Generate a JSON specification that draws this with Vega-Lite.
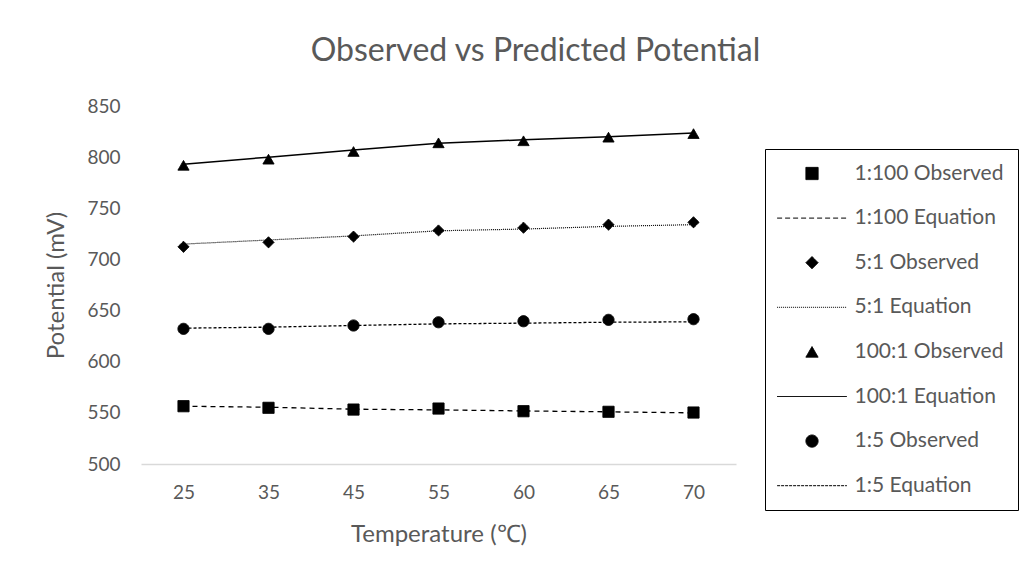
{
  "$schema": "https://vega.github.io/schema/vega-lite/v6.json",
  "autosize": {"type": "none"},
  "width": 595,
  "height": 358,
  "padding": {"left": 141, "top": 106, "right": 285, "bottom": 116},
  "background": "white",
  "title": {
    "text": "Observed vs Predicted Potential",
    "fontSize": 32,
    "font": "Lato",
    "fontWeight": "normal",
    "color": "#595959",
    "anchor": "middle",
    "dx": 97,
    "offset": 29
  },
  "config": {
    "view": {"stroke": null},
    "font": "Lato"
  },
  "data": {
    "values": [
      {"temp": 25, "series": "1:100 Observed", "kind": "Observed", "value": 556.5},
      {"temp": 35, "series": "1:100 Observed", "kind": "Observed", "value": 554.9},
      {"temp": 45, "series": "1:100 Observed", "kind": "Observed", "value": 553.2},
      {"temp": 55, "series": "1:100 Observed", "kind": "Observed", "value": 554.2},
      {"temp": 60, "series": "1:100 Observed", "kind": "Observed", "value": 551.6},
      {"temp": 65, "series": "1:100 Observed", "kind": "Observed", "value": 551.0},
      {"temp": 70, "series": "1:100 Observed", "kind": "Observed", "value": 550.3},
      {"temp": 25, "series": "1:100 Equation", "kind": "Equation", "value": 556.5},
      {"temp": 35, "series": "1:100 Equation", "kind": "Equation", "value": 555.5},
      {"temp": 45, "series": "1:100 Equation", "kind": "Equation", "value": 553.6},
      {"temp": 55, "series": "1:100 Equation", "kind": "Equation", "value": 552.9},
      {"temp": 60, "series": "1:100 Equation", "kind": "Equation", "value": 551.9},
      {"temp": 65, "series": "1:100 Equation", "kind": "Equation", "value": 551.0},
      {"temp": 70, "series": "1:100 Equation", "kind": "Equation", "value": 550.0},
      {"temp": 25, "series": "5:1 Observed", "kind": "Observed", "value": 712.3},
      {"temp": 35, "series": "5:1 Observed", "kind": "Observed", "value": 716.7},
      {"temp": 45, "series": "5:1 Observed", "kind": "Observed", "value": 722.3},
      {"temp": 55, "series": "5:1 Observed", "kind": "Observed", "value": 728.3},
      {"temp": 60, "series": "5:1 Observed", "kind": "Observed", "value": 731.0},
      {"temp": 65, "series": "5:1 Observed", "kind": "Observed", "value": 734.0},
      {"temp": 70, "series": "5:1 Observed", "kind": "Observed", "value": 736.3},
      {"temp": 25, "series": "5:1 Equation", "kind": "Equation", "value": 715.0},
      {"temp": 35, "series": "5:1 Equation", "kind": "Equation", "value": 719.0},
      {"temp": 45, "series": "5:1 Equation", "kind": "Equation", "value": 723.0},
      {"temp": 55, "series": "5:1 Equation", "kind": "Equation", "value": 728.0},
      {"temp": 60, "series": "5:1 Equation", "kind": "Equation", "value": 729.7},
      {"temp": 65, "series": "5:1 Equation", "kind": "Equation", "value": 732.3},
      {"temp": 70, "series": "5:1 Equation", "kind": "Equation", "value": 734.0},
      {"temp": 25, "series": "100:1 Observed", "kind": "Observed", "value": 792.0},
      {"temp": 35, "series": "100:1 Observed", "kind": "Observed", "value": 798.0},
      {"temp": 45, "series": "100:1 Observed", "kind": "Observed", "value": 805.5},
      {"temp": 55, "series": "100:1 Observed", "kind": "Observed", "value": 814.0},
      {"temp": 60, "series": "100:1 Observed", "kind": "Observed", "value": 816.0},
      {"temp": 65, "series": "100:1 Observed", "kind": "Observed", "value": 819.5},
      {"temp": 70, "series": "100:1 Observed", "kind": "Observed", "value": 823.0},
      {"temp": 25, "series": "100:1 Equation", "kind": "Equation", "value": 793.0},
      {"temp": 35, "series": "100:1 Equation", "kind": "Equation", "value": 800.0},
      {"temp": 45, "series": "100:1 Equation", "kind": "Equation", "value": 807.0},
      {"temp": 55, "series": "100:1 Equation", "kind": "Equation", "value": 813.5},
      {"temp": 60, "series": "100:1 Equation", "kind": "Equation", "value": 817.0},
      {"temp": 65, "series": "100:1 Equation", "kind": "Equation", "value": 820.0},
      {"temp": 70, "series": "100:1 Equation", "kind": "Equation", "value": 823.5},
      {"temp": 25, "series": "1:5 Observed", "kind": "Observed", "value": 632.1},
      {"temp": 35, "series": "1:5 Observed", "kind": "Observed", "value": 632.1},
      {"temp": 45, "series": "1:5 Observed", "kind": "Observed", "value": 635.4},
      {"temp": 55, "series": "1:5 Observed", "kind": "Observed", "value": 638.6},
      {"temp": 60, "series": "1:5 Observed", "kind": "Observed", "value": 639.6},
      {"temp": 65, "series": "1:5 Observed", "kind": "Observed", "value": 640.9},
      {"temp": 70, "series": "1:5 Observed", "kind": "Observed", "value": 641.6},
      {"temp": 25, "series": "1:5 Equation", "kind": "Equation", "value": 632.8},
      {"temp": 35, "series": "1:5 Equation", "kind": "Equation", "value": 633.8},
      {"temp": 45, "series": "1:5 Equation", "kind": "Equation", "value": 635.4},
      {"temp": 55, "series": "1:5 Equation", "kind": "Equation", "value": 637.0},
      {"temp": 60, "series": "1:5 Equation", "kind": "Equation", "value": 637.7},
      {"temp": 65, "series": "1:5 Equation", "kind": "Equation", "value": 638.6},
      {"temp": 70, "series": "1:5 Equation", "kind": "Equation", "value": 639.0}
    ]
  },
  "encoding": {
    "x": {
      "field": "temp",
      "type": "ordinal",
      "scale": {"type": "point", "padding": 0.5},
      "axis": {
        "title": "Temperature (℃)",
        "titleFont": "Lato",
        "titleFontSize": 24,
        "titleFontWeight": "normal",
        "titleColor": "#595959",
        "titlePadding": 20,
        "labelAngle": 0,
        "labelFont": "Lato",
        "labelFontSize": 19,
        "labelColor": "#595959",
        "labelPadding": 19,
        "ticks": false,
        "domainColor": "#d9d9d9",
        "domainWidth": 1.3,
        "grid": false
      }
    },
    "y": {
      "field": "value",
      "type": "quantitative",
      "scale": {"domain": [500, 850], "nice": false, "zero": false},
      "axis": {
        "title": "Potential (mV)",
        "titleFont": "Lato",
        "titleFontSize": 24,
        "titleFontWeight": "normal",
        "titleColor": "#595959",
        "titlePadding": 18,
        "values": [500, 550, 600, 650, 700, 750, 800, 850],
        "labelFont": "Lato",
        "labelFontSize": 19,
        "labelColor": "#595959",
        "labelPadding": 21,
        "ticks": false,
        "domain": false,
        "grid": false
      }
    }
  },
  "layer": [
    {
      "transform": [{"filter": "datum.series == '1:100 Equation'"}],
      "mark": {"type": "line", "color": "black", "strokeWidth": 1.3, "strokeDash": [5, 4]},
      "encoding": {}
    },
    {
      "transform": [{"filter": "datum.series == '5:1 Equation'"}],
      "mark": {"type": "line", "color": "black", "strokeWidth": 1.2, "strokeDash": [1, 1]},
      "encoding": {}
    },
    {
      "transform": [{"filter": "datum.series == '100:1 Equation'"}],
      "mark": {"type": "line", "color": "black", "strokeWidth": 1.5},
      "encoding": {}
    },
    {
      "transform": [{"filter": "datum.series == '1:5 Equation'"}],
      "mark": {"type": "line", "color": "black", "strokeWidth": 1.3, "strokeDash": [3, 2]},
      "encoding": {}
    },
    {
      "transform": [{"filter": "datum.kind == 'Observed'"}],
      "mark": {"type": "point", "filled": true, "color": "black", "strokeWidth": 1, "opacity": 1, "size": 125},
      "encoding": {
        "shape": {
          "field": "series",
          "type": "nominal",
          "scale": {
            "domain": ["1:100 Observed", "1:100 Equation", "5:1 Observed", "5:1 Equation", "100:1 Observed", "100:1 Equation", "1:5 Observed", "1:5 Equation"],
            "range": ["square", "M-5.7,0H5.7", "diamond", "M-5.7,0H5.7", "triangle-up", "M-5.7,0H5.7", "circle", "M-5.7,0H5.7"]
          },
          "legend": {
            "title": null,
            "orient": "none",
            "legendX": 624,
            "legendY": 43,
            "columns": 1,
            "padding": 14,
            "strokeColor": "black",
            "fillColor": "white",
            "symbolSize": 150,
            "symbolStrokeWidth": 1,
            "symbolOffset": 22.5,
            "rowPadding": 22.6,
            "labelOffset": 32,
            "labelFont": "Lato",
            "labelFontSize": 21,
            "labelColor": "#595959",
            "labelLimit": 300
          }
        },
        "strokeDash": {
          "field": "series",
          "type": "nominal",
          "scale": {
            "domain": ["1:100 Observed", "1:100 Equation", "5:1 Observed", "5:1 Equation", "100:1 Observed", "100:1 Equation", "1:5 Observed", "1:5 Equation"],
            "range": [[1, 0], [5, 3], [1, 0], [1, 1], [1, 0], [1, 0], [1, 0], [3, 1]]
          },
          "legend": {
            "title": null,
            "orient": "none",
            "legendX": 624,
            "legendY": 43,
            "columns": 1,
            "padding": 14,
            "strokeColor": "black",
            "fillColor": "white",
            "symbolSize": 150,
            "symbolStrokeWidth": 1,
            "symbolOffset": 22.5,
            "rowPadding": 22.6,
            "labelOffset": 32,
            "labelFont": "Lato",
            "labelFontSize": 21,
            "labelColor": "#595959",
            "labelLimit": 300
          }
        },
        "stroke": {
          "field": "series",
          "type": "nominal",
          "scale": {
            "domain": ["1:100 Observed", "1:100 Equation", "5:1 Observed", "5:1 Equation", "100:1 Observed", "100:1 Equation", "1:5 Observed", "1:5 Equation"],
            "range": ["black", "black", "black", "black", "black", "black", "black", "black"]
          },
          "legend": {
            "title": null,
            "orient": "none",
            "legendX": 624,
            "legendY": 43,
            "columns": 1,
            "padding": 14,
            "strokeColor": "black",
            "fillColor": "white",
            "symbolSize": 150,
            "symbolStrokeWidth": 1,
            "symbolOffset": 22.5,
            "rowPadding": 22.6,
            "labelOffset": 32,
            "labelFont": "Lato",
            "labelFontSize": 21,
            "labelColor": "#595959",
            "labelLimit": 300
          }
        }
      }
    }
  ]
}
